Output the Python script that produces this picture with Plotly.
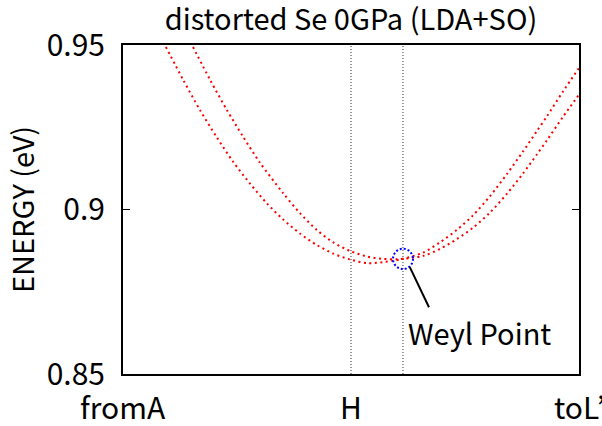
import plotly.graph_objects as go

# k-path coordinate (0 = fromA, 0.5 = H, 1 = toL')
tick_pos = [0.0, 0.5, 1.0]
tick_text = ["fromA", "H", "toL’"]
y_ticks = [0.85, 0.9, 0.95]
y_tick_text = ["0.85", "0.9", "0.95"]
vlines = [0.5, 0.614]

# band 1 (outer on the left, upper on the right)
k1 = [0.094, 0.132, 0.169, 0.206, 0.241, 0.279, 0.316, 0.351, 0.388, 0.425,
      0.461, 0.498, 0.535, 0.570, 0.592, 0.614, 0.658, 0.695, 0.732, 0.768,
      0.805, 0.842, 0.877, 0.908, 0.930, 0.965, 1.0]
e1 = [0.9494, 0.9394, 0.9302, 0.9219, 0.9146, 0.9078, 0.9018, 0.8970, 0.8927, 0.8892,
      0.8866, 0.8848, 0.8837, 0.8840, 0.8844, 0.8850, 0.8869, 0.8900, 0.8938, 0.8983,
      0.9041, 0.9108, 0.9176, 0.9239, 0.9284, 0.9359, 0.9430]

# band 2 (inner on the left, lower on the right)
k2 = [0.1535, 0.191, 0.228, 0.263, 0.300, 0.351, 0.388, 0.425, 0.461, 0.498,
      0.535, 0.570, 0.601, 0.614, 0.658, 0.695, 0.732, 0.768, 0.805, 0.842,
      0.877, 0.908, 0.930, 0.965, 1.0]
e2 = [0.9494, 0.9394, 0.9302, 0.9222, 0.9143, 0.9050, 0.8989, 0.8938, 0.8900, 0.8874,
      0.8857, 0.8850, 0.8849, 0.8850, 0.8859, 0.8880, 0.8910, 0.8945, 0.8991, 0.9048,
      0.9109, 0.9168, 0.9211, 0.9282, 0.9349]

weyl_k, weyl_e = 0.614, 0.8850
label_k, label_e = 0.781, 0.8628

FONT = "Noto Sans CJK JP"

fig = go.Figure()
for k, e in [(k1, e1), (k2, e2)]:
    fig.add_trace(go.Scatter(
        x=k, y=e, mode="lines",
        line=dict(color="#ff0000", width=2, dash="2px,3.5px", shape="spline", smoothing=0.8),
        showlegend=False, hoverinfo="skip", cliponaxis=True))

shapes = []
for xv in vlines:
    shapes.append(dict(type="line", xref="x", yref="paper", x0=xv, x1=xv, y0=0, y1=1,
                       line=dict(color="#333333", width=1, dash="1px,2px"), layer="below"))
# Weyl point circle
rx, ry = 0.0219, 0.0031
shapes.append(dict(type="circle", xref="x", yref="y",
                   x0=weyl_k - rx, x1=weyl_k + rx, y0=weyl_e - ry, y1=weyl_e + ry,
                   line=dict(color="#0000ff", width=2, dash="2px,2px")))
# pointer line
shapes.append(dict(type="line", xref="x", yref="y", x0=0.629, y0=0.8825, x1=0.671, y1=0.8703,
                   line=dict(color="black", width=2)))

annotations = [dict(x=label_k, y=label_e, xref="x", yref="y", text="Weyl Point",
                    showarrow=False, font=dict(family=FONT, size=29, color="black"))]
for xv, txt in zip(tick_pos, tick_text):
    annotations.append(dict(x=xv, y=0, xref="x", yref="paper", yanchor="top", yshift=-8,
                            text=txt, showarrow=False,
                            font=dict(family=FONT, size=30, color="black")))

fig.update_layout(
    width=602, height=426,
    margin=dict(l=123, r=23, t=45, b=52, autoexpand=False),
    plot_bgcolor="white", paper_bgcolor="white",
    shapes=shapes, annotations=annotations,
    font=dict(family=FONT, color="black", size=30),
    title=dict(text="distorted Se 0GPa (LDA+SO)", x=0.583, xanchor="center",
               y=0.953, yanchor="middle", yref="container", automargin=False,
               font=dict(family=FONT, size=29, color="black")),
)
fig.update_xaxes(range=[0, 1], tickvals=tick_pos, showticklabels=False, ticks="",
                 showgrid=False, zeroline=False, showline=True, linecolor="black",
                 linewidth=2, mirror=True, automargin=False)
fig.update_yaxes(range=[0.85, 0.95], tickvals=y_ticks, ticktext=y_tick_text,
                 ticks="inside", ticklen=7, tickwidth=1, tickcolor="black",
                 showgrid=False, zeroline=False, showline=True, linecolor="black",
                 linewidth=2, mirror="ticks", tickfont=dict(size=30, family=FONT),
                 ticklabelstandoff=10, automargin=False,
                 title=dict(text="ENERGY (eV)", font=dict(size=29, family=FONT), standoff=4))

fig.write_html("out.html")
